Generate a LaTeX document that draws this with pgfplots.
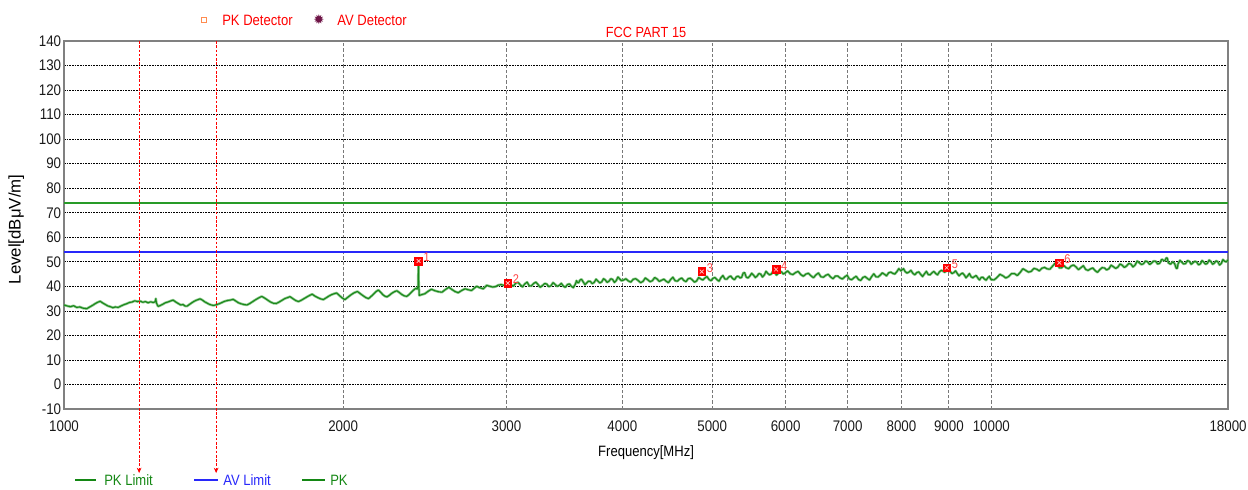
\documentclass[border=0pt]{standalone}
\usepackage{fontspec}
\setmainfont{Liberation Sans}[FakeStretch=0.87]
\newfontfamily\ylabfont{Liberation Sans}
\newfontfamily\symfont{DejaVu Sans}
\usepackage{pgfplots}
\usepackage{pgfplotstable}
\pgfplotsset{compat=1.18}
\usetikzlibrary{arrows.meta}
\definecolor{trace}{RGB}{25,135,25}
\definecolor{tracelight}{RGB}{110,185,110}
\definecolor{pklim}{RGB}{40,155,40}
\definecolor{avlim}{RGB}{40,40,250}
\definecolor{legred}{RGB}{255,0,0}
\definecolor{lablred}{RGB}{255,70,70}
\definecolor{gridx}{RGB}{120,120,120}
\definecolor{frame}{RGB}{128,128,128}
\definecolor{pkorange}{RGB}{255,140,80}
\definecolor{avpurple}{RGB}{110,20,70}
\definecolor{legGreen}{RGB}{20,135,20}

\pgfplotstableread{
x y
1000 32.4
1008 32.0
1016 31.7
1024 32.1
1032 31.4
1040 31.6
1048 31.1
1058 30.9
1066 31.6
1074 32.3
1080 32.9
1087 33.5
1094 33.9
1101 33.2
1108 32.6
1115 32.0
1122 31.7
1129 31.3
1136 31.6
1144 31.4
1152 32.0
1160 32.5
1168 32.9
1176 33.4
1184 33.6
1192 34.1
1200 33.8
1208 34.0
1216 33.5
1224 33.8
1232 33.3
1240 33.7
1248 33.4
1254 33.7
1256 35.0
1258 33.2
1263 31.8
1270 32.2
1278 32.7
1286 33.3
1294 33.6
1302 34.0
1311 34.4
1320 33.6
1328 33.0
1336 32.4
1344 32.6
1350 32.0
1357 31.9
1364 32.5
1372 33.2
1380 33.8
1388 34.3
1395 34.6
1402 34.9
1410 34.4
1418 33.7
1426 33.2
1434 32.7
1442 32.4
1450 32.2
1460 32.5
1470 32.9
1480 33.4
1490 33.9
1500 34.2
1511 34.4
1522 34.7
1532 34.0
1542 33.3
1552 32.9
1563 32.6
1575 32.4
1586 33.0
1598 33.8
1610 34.6
1622 35.3
1634 35.9
1646 35.2
1658 34.4
1670 33.6
1682 33.1
1694 33.0
1706 33.6
1718 34.3
1730 35.0
1742 35.4
1753 35.8
1765 35.0
1778 34.2
1790 33.8
1802 34.3
1815 35.0
1828 35.7
1840 36.3
1852 36.8
1865 36.0
1878 35.4
1891 34.9
1904 34.6
1917 35.3
1930 36.0
1943 36.6
1956 37.0
1968 37.3
1981 36.3
1995 35.3
2009 34.6
2024 35.6
2040 36.6
2056 37.4
2072 37.9
2087 37.0
2101 36.2
2116 35.4
2130 35.0
2142 35.8
2155 36.7
2169 37.8
2183 38.5
2195 37.6
2207 36.6
2218 36.0
2230 35.7
2244 36.4
2257 37.2
2271 37.8
2285 38.2
2299 37.5
2313 36.7
2328 36.1
2342 35.9
2355 36.6
2368 37.5
2381 38.4
2395 39.2
2403 38.9
2409 40.0
2411 50.3
2413 40.5
2416 36.3
2430 36.6
2450 37.0
2470 38.0
2490 38.8
2512 38.2
2534 37.8
2556 37.6
2578 38.7
2600 39.6
2620 38.7
2640 37.9
2661 37.4
2684 38.3
2707 39.0
2729 38.6
2751 38.3
2768 39.2
2786 40.0
2809 39.4
2832 39.0
2856 40.4
2880 40.0
2900 39.7
2920 39.9
2940 40.5
2960 40.7
2982 40.4
3003 41.2
3019 41.8
3035 40.5
3052 40.1
3070 41.3
3088 41.6
3105 40.6
3122 39.8
3140 41.0
3158 41.7
3175 40.2
3192 40.2
3210 41.2
3228 41.7
3245 40.7
3262 39.6
3280 40.3
3298 41.1
3315 41.0
3332 39.9
3350 40.2
3368 41.5
3385 40.8
3402 40.0
3420 40.4
3438 41.2
3455 40.1
3472 39.6
3490 40.7
3508 41.0
3525 40.0
3542 39.5
3560 40.9
3570 42.3
3580 41.5
3590 41.5
3600 42.5
3615 42.9
3630 41.8
3646 40.7
3662 41.4
3678 42.1
3695 42.0
3712 41.1
3730 41.6
3748 42.9
3765 42.2
3782 41.4
3800 41.8
3818 43.1
3835 42.6
3852 41.6
3870 42.1
3888 43.1
3905 42.8
3922 41.6
3940 42.3
3958 43.8
3975 43.0
3992 42.3
4010 42.5
4035 43.1
4060 42.2
4085 41.7
4110 42.9
4135 43.1
4160 42.4
4185 41.5
4210 42.0
4235 43.4
4260 42.7
4285 41.9
4310 42.3
4335 43.6
4360 43.0
4385 42.0
4410 42.5
4435 42.9
4460 42.1
4485 41.5
4510 42.8
4535 43.7
4560 42.3
4585 42.1
4610 42.9
4635 43.4
4660 42.4
4685 41.9
4710 43.1
4735 43.3
4760 42.6
4785 41.7
4810 42.2
4835 43.6
4860 43.0
4885 42.6
4910 43.4
4935 44.0
4960 42.8
4985 42.3
5010 43.3
5035 43.6
5060 42.7
5085 42.1
5110 43.5
5135 44.4
5160 43.0
5185 42.9
5210 43.8
5235 44.2
5260 43.2
5285 42.7
5310 43.9
5335 44.1
5360 43.4
5380 43.7
5400 45.4
5420 45.6
5440 43.8
5465 43.4
5490 44.2
5515 45.3
5540 44.6
5565 43.6
5590 44.2
5615 45.2
5640 45.0
5665 43.8
5690 44.6
5715 46.1
5740 45.3
5765 44.7
5790 45.0
5815 46.1
5840 45.7
5865 44.6
5890 45.2
5915 46.0
5940 45.9
5965 45.0
5990 45.4
6030 46.3
6070 45.1
6110 44.8
6150 45.6
6190 46.1
6230 44.8
6270 44.1
6310 45.0
6350 45.3
6390 44.3
6430 43.5
6470 44.7
6510 45.4
6550 43.9
6590 43.7
6630 44.5
6670 44.9
6710 43.8
6750 43.1
6790 44.2
6830 44.2
6870 43.4
6910 43.0
6950 43.9
6990 44.5
7030 43.0
7070 42.7
7110 43.5
7150 44.1
7190 42.8
7230 42.4
7270 43.6
7310 44.0
7350 43.2
7390 42.6
7430 44.0
7470 45.1
7510 43.9
7550 43.8
7590 44.6
7630 45.5
7670 44.9
7710 44.3
7750 45.5
7790 45.8
7830 45.3
7870 45.0
7910 46.0
7950 47.2
7990 46.3
8040 47.2
8070 46.1
8110 45.4
8150 45.8
8190 46.5
8230 45.3
8270 44.7
8310 45.6
8350 45.9
8390 44.9
8430 44.0
8470 45.1
8510 46.1
8550 44.8
8590 44.7
8630 45.5
8670 46.1
8710 45.2
8750 44.7
8790 45.9
8830 46.5
8870 46.2
8910 45.7
8950 46.6
8990 47.3
9030 46.0
9070 45.2
9110 45.6
9150 46.3
9190 45.2
9230 44.3
9270 45.0
9310 45.4
9350 44.6
9390 43.5
9430 44.3
9470 45.2
9510 43.9
9550 43.5
9590 44.0
9630 44.4
9670 43.4
9710 42.6
9750 43.6
9790 43.7
9830 43.0
9870 42.5
9910 43.4
9950 44.1
9990 42.8
10065 42.6
10140 43.6
10215 44.9
10290 44.3
10365 43.4
10440 44.0
10515 45.2
10590 45.2
10665 44.4
10740 45.6
10815 47.2
10890 46.5
10965 45.8
11040 46.1
11115 47.3
11190 47.0
11265 46.3
11340 47.4
11415 47.7
11490 47.1
11565 47.0
11640 48.2
11715 49.4
11790 48.6
11845 47.5
11900 47.5
11970 48.5
12040 47.6
12115 47.2
12190 48.3
12265 48.7
12340 47.9
12415 46.8
12490 47.6
12565 48.4
12640 46.9
12715 46.5
12790 47.1
12865 47.5
12940 46.4
13015 45.7
13090 46.8
13165 47.6
13240 47.5
13315 46.7
13390 47.2
13465 48.6
13540 48.0
13615 47.3
13690 47.8
13765 49.1
13840 48.6
13915 47.7
13990 48.3
14065 49.3
14140 49.1
14215 47.9
14290 48.7
14365 50.3
14440 49.6
14515 48.9
14590 49.2
14665 50.3
14740 50.0
14815 48.9
14890 49.5
14965 50.3
15040 50.2
15115 49.1
15190 49.4
15265 51.0
15340 50.6
15390 50.5
15440 51.6
15480 51.5
15520 49.6
15605 49.0
15690 50.0
15760 49.3
15830 47.3
15865 47.3
15900 49.2
15975 50.6
16050 49.8
16125 49.1
16200 49.3
16275 50.5
16350 50.2
16425 49.0
16500 49.6
16575 50.2
16650 49.9
16725 48.8
16800 49.1
16875 50.5
16950 49.8
17025 49.0
17100 49.4
17175 50.7
17250 50.1
17325 49.0
17400 49.5
17475 50.4
17550 50.0
17625 48.7
17700 49.3
17775 50.9
17850 50.2
17925 50.0
18000 50.8
}\tracedata

\pgfplotstableread{
x y lab
2412 50.3 1
3010 41.3 2
4872 46.0 3
5860 46.9 4
8951 47.6 5
11840 49.6 6
}\markerdata

\begin{document}
\fontsize{11.25pt}{13pt}\selectfont
\begin{tikzpicture}
\path[use as bounding box] (-48pt,-60pt) rectangle (888pt,306.75pt);
\begin{axis}[
  at={(0pt,0pt)}, anchor=south west,
  scale only axis, width=873pt, height=276pt,
  xmode=log, xmin=1000, xmax=18000, ymin=-10, ymax=140,
  xtick={1000,2000,3000,4000,5000,6000,7000,8000,9000,10000,18000},
  xticklabels={1000,2000,3000,4000,5000,6000,7000,8000,9000,10000,18000},
  minor xtick={},
  ytick={-10,0,10,20,30,40,50,60,70,80,90,100,110,120,130,140},
  /pgf/number format/assume math mode=true,
  major tick length=0pt,
  grid=major,
  major x grid style={gridx, line width=0.75pt, dash pattern=on 2.5pt off 1.5pt},
  major y grid style={black, line width=0.5pt, dash pattern=on 1.2pt off 0.8pt},
  axis line style={frame, line width=0.9pt},
  clip=false,
  ticklabel style={font=\fontsize{11.5pt}{13pt}\selectfont, text=black!90},
  yticklabel style={xshift=1.8pt},
  xticklabel style={yshift=-5pt},
  ylabel={Level[dBμV/m]},
  ylabel style={at={(axis description cs:-0.041,0.488)}, anchor=center, font=\ylabfont\fontsize{12.6pt}{14pt}\selectfont},
  xlabel={Frequency[MHz]},
  xlabel style={at={(axis description cs:0.5,-0.1196)}, anchor=center, font=\fontsize{11.25pt}{13pt}\selectfont},
]
\addplot[pklim, line width=1.5pt] coordinates {(1000,74) (18000,74)};
\addplot[avlim, line width=1.5pt] coordinates {(1000,54) (18000,54)};
\addplot[tracelight, opacity=0.8, line width=1.9pt, line join=round] table[x=x,y=y] {\tracedata};
\addplot[trace, line width=0.8pt, line join=round] table[x=x,y=y] {\tracedata};
\addplot[only marks, mark=square*, mark size=2.9pt, mark options={fill=legred, draw=legred},
  nodes near coords, point meta=explicit symbolic,
  nodes near coords style={anchor=south west, inner sep=0pt, xshift=3.6pt, yshift=-0.8pt, text=lablred, font=\fontsize{9.5pt}{10pt}\selectfont}]
  table[x=x,y=y,meta=lab] {\markerdata};
\addplot[only marks, mark=x, mark size=2pt, mark options={draw=white!80!red, line width=0.5pt}] table[x=x,y=y] {\markerdata};
\draw[legred, line width=0.6pt, dash pattern=on 2pt off 1.2pt, -{Stealth[length=4pt,width=3.5pt]}] (axis cs:1205,140) -- (axis cs:1205,-36.1);
\draw[legred, line width=0.6pt, dash pattern=on 2pt off 1.2pt, -{Stealth[length=4pt,width=3.5pt]}] (axis cs:1459,140) -- (axis cs:1459,-36.1);
\node[text=legred, font=\fontsize{11pt}{13pt}\selectfont] at (axis description cs:0.5,1.0245) {FCC PART 15};
\end{axis}
\begin{scope}[x=0.75pt, y=-0.75pt, shift={(-48pt,306.75pt)}]
  \draw[pkorange, line width=1.1pt] (201.5,17.5) rectangle (206.5,22.5);
  \node[anchor=west, inner sep=0pt, text=legred] at (222,20) {PK Detector};
  \node[inner sep=0pt, text=avpurple, font=\symfont\fontsize{10pt}{10pt}\selectfont] at (319,20) {✹};
  \node[anchor=west, inner sep=0pt, text=legred] at (337,20) {AV Detector};
  \draw[legGreen, line width=1.3pt] (75,480) -- (96,480);
  \node[anchor=west, inner sep=0pt, text=legGreen] at (104,480) {PK Limit};
  \draw[avlim, line width=1.3pt] (194,480) -- (218,480);
  \node[anchor=west, inner sep=0pt, text=avlim] at (223,480) {AV Limit};
  \draw[legGreen, line width=1.3pt] (302,480) -- (325,480);
  \node[anchor=west, inner sep=0pt, text=legGreen] at (330,480) {PK};
\end{scope}
\end{tikzpicture}
\end{document}
